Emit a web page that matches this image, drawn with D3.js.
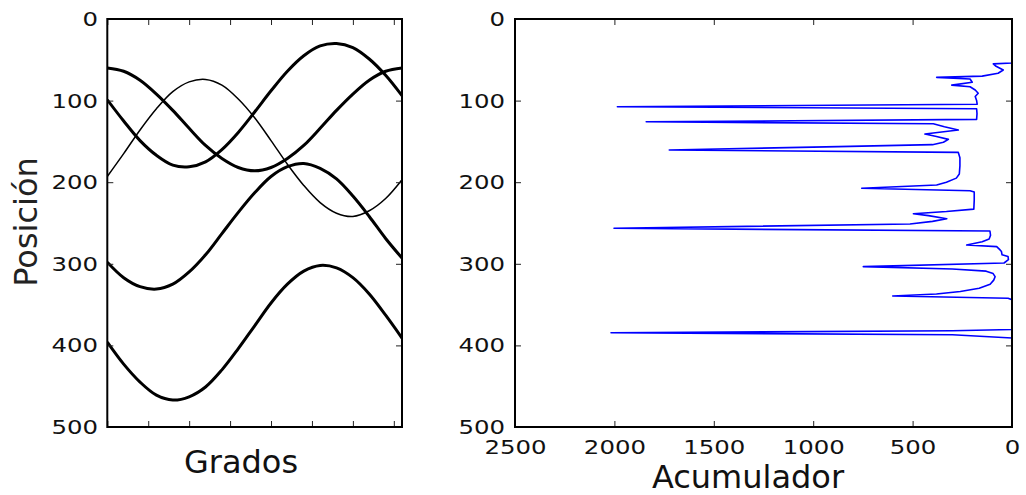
<!DOCTYPE html>
<html><head><meta charset="utf-8">
<script src="https://cdn.jsdelivr.net/npm/d3@7"></script>
<style>
body{margin:0;background:#fff;}
svg{display:block;}
</style>
</head><body>
<svg id="c" width="1026" height="495"></svg>
<script>
// ---- data ----
const degrees = [0,10,20,30,40,50,60,70,80,90,100,110,120,130,140,150,160,170,180];
const curveA = [396,423,445,461,467,463,451,430,404,376,348,325,309,302,305,317,337,363,391];
const curveB = [298,317,328,331,325,310,289,263,237,213,193,181,177,183,196,217,242,269,293];
const curveC = [99,125,149,167,179,181,175,160,139,114,88,64,45,33,30,35,49,69,94];
const curveD = [60,64,75,92,112,134,155,171,182,186,182,171,155,134,112,92,75,64,60];
const curveThin = [193,165,136,110,89,77,74,81,98,121,149,178,204,225,238,242,235,220,197];

const accPositions = [0,54,55,58,62.5,66.5,70,71.5,73.5,77.5,81,83,87,91,95,100,104.5,107.5,110,116,123,126,128.4,132,136,141,144,147.5,151,154,156.4,160.5,163.5,170,180,190,195,200,203.4,207.5,210.4,212,222,233,236,238.6,241,244.7,248,251.2,256.5,259.8,265,269.6,273,277,279,283,285,289,291,295,299,303.5,306.4,309,312,315.8,320,325,330,334,337,339.5,342.3,344,380.5,382,384.5,387,391,500];
const accValues =    [0,0,94,80,44,70,150,379,211,200,303,211,185,170,185,178,175,1985,178,176,178,1840,396,340,270,438,380,320,345,400,874,1724,270,262,262,265,280,330,379,756,211,190,190,192,330,496,420,328,400,513,2002,111,108,115,150,228,77,60,53,50,20,18,40,748,300,130,95,85,92,110,165,260,380,600,20,0,0,300,2017,300,0,0];

const yTicks = [0,100,200,300,400,500];
const gradTicks = [0,25,50,75,100,125,150,175];
const accTicks = [0,500,1000,1500,2000,2500];

// ---- layout ----
const svg = d3.select('#c');
const plotTop = 19, plotBottom = 427;
const L = {x0:107.3, x1:402};
const R = {x0:515, x1:1012};
const FONT = '"DejaVu Sans", sans-serif';
const fmt = d3.format('d');

const xL = d3.scaleLinear().domain([0,180]).range([L.x0, L.x1]);
const yL = d3.scaleLinear().domain([0,500]).range([plotTop, plotBottom]);
const xR = d3.scaleLinear().domain([2500,0]).range([R.x0, R.x1]);
const yR = d3.scaleLinear().domain([0,500]).range([plotTop, plotBottom]);

const defs = svg.append('defs');
defs.append('clipPath').attr('id','clipL').append('rect')
  .attr('x',L.x0).attr('y',plotTop).attr('width',L.x1-L.x0).attr('height',plotBottom-plotTop);
defs.append('clipPath').attr('id','clipR').append('rect')
  .attr('x',R.x0).attr('y',plotTop).attr('width',R.x1-R.x0).attr('height',plotBottom-plotTop);

function styleAxis(g, labelScale){
  g.attr('font-family', FONT).attr('font-size', 20);
  g.select('.domain').remove();
  g.selectAll('.tick line').attr('stroke','#222').attr('stroke-width',1);
  g.selectAll('.tick text').attr('fill','#111');
  if(labelScale) g.selectAll('.tick text').attr('transform', `scale(${labelScale},1)`);
}

// ---- left panel ----
const curveLine = d3.line().x((d,i)=>xL(degrees[i])).y(d=>yL(d)).curve(d3.curveCatmullRom);
const gCurves = svg.append('g').attr('clip-path','url(#clipL)');
[curveA, curveB, curveC, curveD].forEach(c=>{
  gCurves.append('path').attr('d', curveLine(c)).attr('fill','none')
    .attr('stroke','#000').attr('stroke-width',3);
});
gCurves.append('path').attr('d', curveLine(curveThin)).attr('fill','none')
  .attr('stroke','#000').attr('stroke-width',1.5);

svg.append('g').attr('transform',`translate(${L.x0},0)`)
  .call(d3.axisLeft(yL).tickValues(yTicks).tickFormat(fmt).tickSizeInner(-6).tickSizeOuter(0).tickPadding(7.6))
  .call(g=>styleAxis(g,1.22));
svg.append('g').attr('transform',`translate(${L.x1},0)`)
  .call(d3.axisRight(yL).tickValues(yTicks).tickSizeInner(-6).tickSizeOuter(0).tickFormat(''))
  .call(g=>styleAxis(g));
svg.append('g').attr('transform',`translate(0,${plotBottom})`)
  .call(d3.axisBottom(xL).tickValues(gradTicks).tickSizeInner(-6).tickSizeOuter(0).tickFormat(''))
  .call(g=>styleAxis(g));
svg.append('g').attr('transform',`translate(0,${plotTop})`)
  .call(d3.axisTop(xL).tickValues(gradTicks).tickSizeInner(-6).tickSizeOuter(0).tickFormat(''))
  .call(g=>styleAxis(g));
svg.append('rect').attr('x',L.x0).attr('y',plotTop).attr('width',L.x1-L.x0).attr('height',plotBottom-plotTop)
  .attr('fill','none').attr('stroke','#000').attr('stroke-width',2);

// ---- right panel ----
const accLine = d3.line().x((d,i)=>xR(accValues[i])).y((d,i)=>yR(accPositions[i]));
svg.append('g').attr('clip-path','url(#clipR)').append('path')
  .attr('d', accLine(accPositions)).attr('fill','none')
  .attr('stroke','#0000ff').attr('stroke-width',1.6).attr('stroke-linejoin','round');

svg.append('g').attr('transform',`translate(${R.x0},0)`)
  .call(d3.axisLeft(yR).tickValues(yTicks).tickFormat(fmt).tickSizeInner(-6).tickSizeOuter(0).tickPadding(8.2))
  .call(g=>styleAxis(g,1.22));
svg.append('g').attr('transform',`translate(${R.x1},0)`)
  .call(d3.axisRight(yR).tickValues(yTicks).tickSizeInner(-6).tickSizeOuter(0).tickFormat(''))
  .call(g=>styleAxis(g));
svg.append('g').attr('transform',`translate(0,${plotBottom})`)
  .call(d3.axisBottom(xR).tickValues(accTicks).tickFormat(fmt).tickSizeInner(-6).tickSizeOuter(0).tickPadding(13))
  .call(g=>styleAxis(g,1.22));
svg.append('g').attr('transform',`translate(0,${plotTop})`)
  .call(d3.axisTop(xR).tickValues(accTicks).tickSizeInner(-6).tickSizeOuter(0).tickFormat(''))
  .call(g=>styleAxis(g));
svg.append('rect').attr('x',R.x0).attr('y',plotTop).attr('width',R.x1-R.x0).attr('height',plotBottom-plotTop)
  .attr('fill','none').attr('stroke','#000').attr('stroke-width',2);

// ---- axis titles ----
svg.append('text').text('Posición')
  .attr('transform','translate(37,222) rotate(-90)')
  .attr('text-anchor','middle').attr('font-family',FONT).attr('font-size',32).attr('fill','#222');
svg.append('text').text('Grados')
  .attr('x',241).attr('y',473)
  .attr('text-anchor','middle').attr('font-family',FONT).attr('font-size',32).attr('fill','#111');
svg.append('text').text('Acumulador')
  .attr('x',748).attr('y',488)
  .attr('text-anchor','middle').attr('font-family',FONT).attr('font-size',32).attr('fill','#111');
</script>
</body></html>
